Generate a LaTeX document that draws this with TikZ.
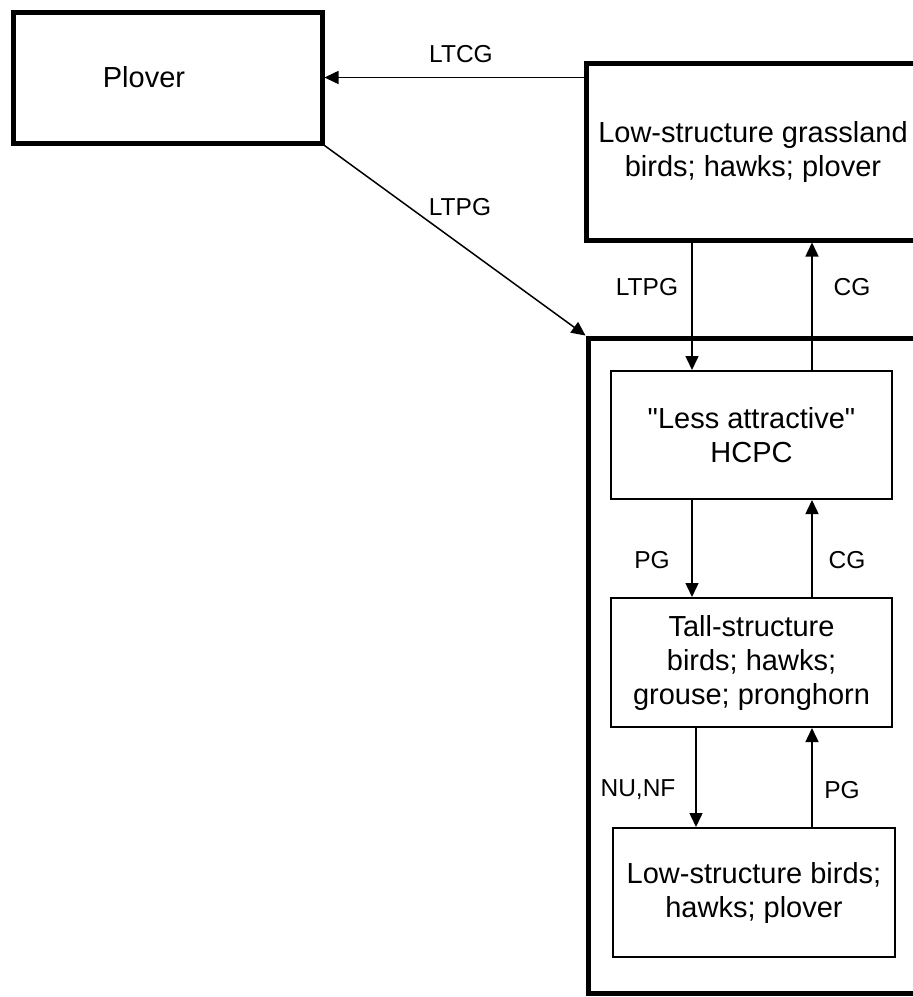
\documentclass[tikz,border=0pt]{standalone}
\usepackage{fontspec}
\setmainfont{Liberation Sans}[Ligatures=TeXOff]
\usetikzlibrary{arrows.meta,calc}
\begin{document}
\begin{tikzpicture}[x=1pt,y=-1pt,
  thickbox/.style={draw, line width=5pt, inner sep=0pt},
  thinbox/.style={draw, line width=2pt, inner sep=0pt, align=center,
    font=\fontsize{29}{34}\selectfont},
  arr/.style={line width=1.5pt, -{Triangle[length=14pt,width=13pt]}},
  lbl/.style={font=\fontsize{24.5}{28}\selectfont, inner sep=0pt}]
\useasboundingbox (0,0) rectangle (913,997);
\clip (0,0) rectangle (913,997);
% thick boxes
\node[thickbox, minimum width=309pt, minimum height=131pt,
  font=\fontsize{29}{34}\selectfont] (plover) at (167.5,77.5) {Plover\hspace*{47pt}};
\node[thickbox, minimum width=334pt, minimum height=177pt, align=center,
  font=\fontsize{29}{34}\selectfont] (grass) at (753,151.5)
  {Low-structure grassland\\birds; hawks; plover};
\node[thickbox, minimum width=337pt, minimum height=655pt] (region) at (756.5,665.5) {};
% inner thin boxes
\node[thinbox, minimum width=281pt, minimum height=128pt] (hcpc) at (751.5,435)
  {"Less attractive"\\HCPC};
\node[thinbox, minimum width=281pt, minimum height=129pt] (tall) at (751.5,662.5)
  {Tall-structure\\birds; hawks;\\grouse; pronghorn};
\node[thinbox, minimum width=282pt, minimum height=129pt] (low) at (754,892.5)
  {Low-structure birds;\\hawks; plover};
% guide coordinates for vertical connectors
\coordinate (xl) at (692,0);
\coordinate (xn) at (696,0);
\coordinate (xr) at (812,0);
% connectors
\draw[arr] (grass.west |- plover.east) -- (plover.east);
\draw[arr] (plover.south east) -- (region.north west);
\draw[arr] (grass.south -| xl) -- (hcpc.north -| xl);
\draw[arr] (hcpc.north -| xr) -- (grass.south -| xr);
\draw[arr] (hcpc.south -| xl) -- (tall.north -| xl);
\draw[arr] (tall.north -| xr) -- (hcpc.south -| xr);
\draw[arr] (tall.south -| xn) -- (low.north -| xn);
\draw[arr] (low.north -| xr) -- (tall.south -| xr);
% labels
\node[lbl] (l1) at (461,54) {LTCG};
\node[lbl] (l2) at (460,207) {LTPG};
\node[lbl] (l3) at (647,287) {LTPG};
\node[lbl] (l4) at (852,287) {CG};
\node[lbl] (l5) at (652,560) {PG};
\node[lbl] (l6) at (847,560) {CG};
\node[lbl] (l7) at (638,790) {NU,NF};
\node[lbl] (l8) at (842,790) {PG};
\end{tikzpicture}
\end{document}
